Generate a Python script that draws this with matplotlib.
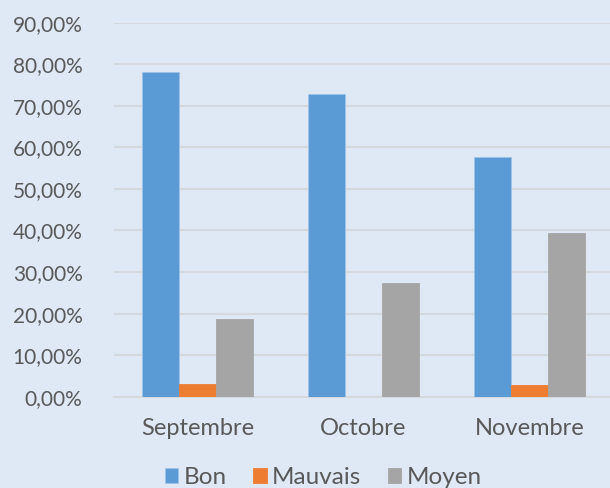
import numpy as np
import matplotlib.pyplot as plt
from matplotlib.ticker import FuncFormatter

months = ["Septembre", "Octobre", "Novembre"]
bon = [78.2, 72.9, 57.7]
mauvais = [3.0, 0.0, 2.9]
moyen = [18.8, 27.3, 39.4]

bg = '#dee9f5'
txt = '#595959'
colors = ['#5b9bd5', '#ed7d31', '#a5a5a5']

plt.rcParams['font.family'] = ['Lato', 'DejaVu Sans']

fig = plt.figure(figsize=(6.1, 4.88), dpi=100, facecolor=bg)
ax = fig.add_axes([0.1877, 0.187, 0.8163, 0.7665], facecolor=bg)

x = np.arange(len(months))
w = 0.223
for i, (vals, name) in enumerate([(bon, "Bon"), (mauvais, "Mauvais"), (moyen, "Moyen")]):
    ax.bar(x + (i - 1) * w, vals, w, color=colors[i], label=name, zorder=3,
           edgecolor='#9dc3e6' if i == 0 else colors[i], linewidth=0.6)

ax.set_ylim(0, 90)
ax.set_xlim(-0.5, 2.5)
ax.set_yticks(np.arange(0, 91, 10))
ax.yaxis.set_major_formatter(FuncFormatter(lambda v, p: f"{v:.2f}%".replace('.', ',')))
ax.set_xticks(x)
ax.set_xticklabels(months)

ax.grid(axis='y', color='#d5d8dc', linewidth=1.5, zorder=0)
for s in ['top', 'right', 'left']:
    ax.spines[s].set_visible(False)
ax.spines['bottom'].set_color('#d5d8dc')
ax.spines['bottom'].set_linewidth(1.5)
ax.tick_params(axis='y', length=0, pad=23, labelsize=15, labelcolor=txt)
ax.tick_params(axis='x', length=0, pad=15, labelsize=17, labelcolor=txt)

leg = fig.legend(loc='lower center', bbox_to_anchor=(0.53, -0.045), ncol=3, frameon=False,
                 fontsize=17.5, handlelength=0.55, handleheight=0.55, handletextpad=0.22,
                 columnspacing=1.1, labelcolor=txt)

fig.savefig('out.png', dpi=100, facecolor=bg)
